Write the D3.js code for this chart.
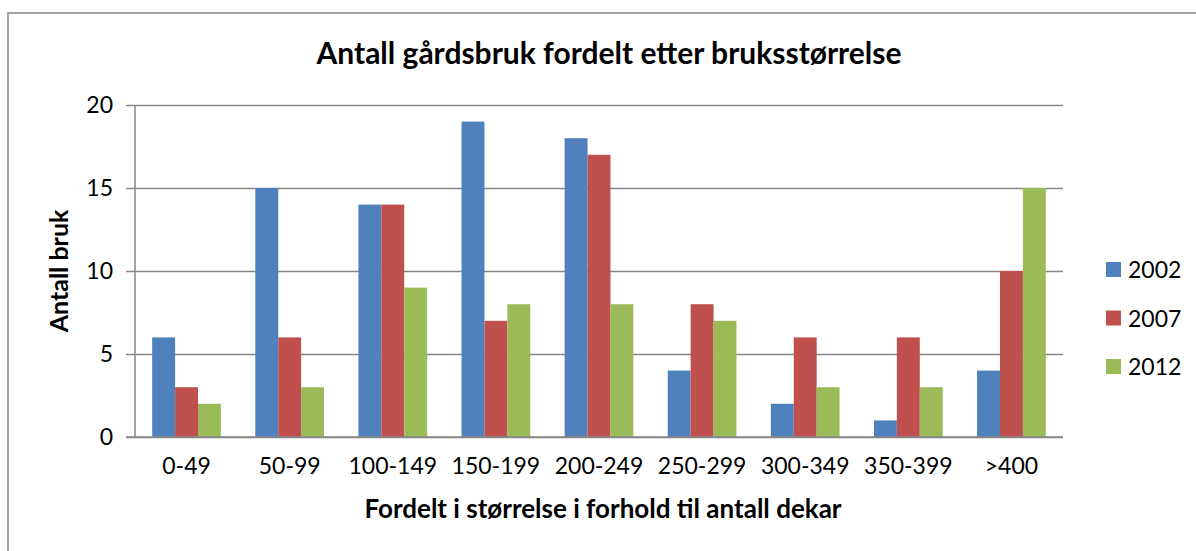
<!DOCTYPE html>
<html>
<head>
<meta charset="UTF-8">
<title>Antall gårdsbruk</title>
<script src="https://d3js.org/d3.v7.min.js"></script>
<style>
  body { margin: 0; background: #fff; }
  svg { display: block; font-family: Lato, "Open Sans", sans-serif; }
</style>
</head>
<body>
<svg id="chart" width="1196" height="551"></svg>
<script>
// data
var categories = ["0-49", "50-99", "100-149", "150-199", "200-249", "250-299", "300-349", "350-399", ">400"];
var years = ["2002", "2007", "2012"];
var values2002 = [6, 15, 14, 19, 18, 4, 2, 1, 4];
var values2007 = [3, 6, 14, 7, 17, 8, 6, 6, 10];
var values2012 = [2, 3, 9, 8, 8, 7, 3, 3, 15];
var yTicks = [0, 5, 10, 15, 20];
var colors = ["#4F81BD", "#C0504D", "#9BBB59"];

var series = [values2002, values2007, values2012];

var svg = d3.select("#chart");
var plotLeft = 135, plotRight = 1063, plotTop = 105, plotBottom = 437;

// outer chart border (only top and left visible in the frame)
svg.append("rect")
    .attr("x", 8).attr("y", 13)
    .attr("width", 1300).attr("height", 700)
    .attr("fill", "none")
    .attr("stroke", "#868686")
    .attr("stroke-width", 1.5);

var x0 = d3.scaleBand()
    .domain(categories)
    .range([plotLeft, plotRight])
    .paddingInner(1 / 3)
    .paddingOuter(1 / 6);

var x1 = d3.scaleBand()
    .domain(years)
    .range([0, x0.bandwidth()]);

var y = d3.scaleLinear()
    .domain([0, 20])
    .range([plotBottom, plotTop]);

// gridlines + y axis ticks
var yAxis = d3.axisLeft(y)
    .tickValues(yTicks)
    .tickSize(-(plotRight - plotLeft))
    .tickPadding(22)
    .tickFormat(d3.format("d"));

var gy = svg.append("g")
    .attr("transform", "translate(" + plotLeft + ",0)")
    .call(yAxis);
gy.select(".domain").remove();
gy.selectAll(".tick line")
    .attr("x1", -9)
    .attr("stroke", "#868686")
    .attr("stroke-width", 1.5);
gy.selectAll(".tick text")
    .attr("font-size", 23)
    .attr("fill", "#000")
    .attr("font-family", "Lato, sans-serif");

// vertical axis line
svg.append("line")
    .attr("x1", plotLeft).attr("x2", plotLeft)
    .attr("y1", plotTop).attr("y2", plotBottom)
    .attr("stroke", "#868686")
    .attr("stroke-width", 1.5);

// bars
var groups = svg.append("g").selectAll("g")
    .data(categories)
    .join("g")
    .attr("transform", function (d) { return "translate(" + x0(d) + ",0)"; });

groups.selectAll("rect")
    .data(function (d, i) {
        return years.map(function (yr, j) { return { year: yr, value: series[j][i], idx: j }; });
    })
    .join("rect")
    .attr("x", function (d) { return x1(d.year); })
    .attr("y", function (d) { return y(d.value); })
    .attr("width", x1.bandwidth())
    .attr("height", function (d) { return y(0) - y(d.value); })
    .attr("fill", function (d) { return colors[d.idx]; });

// x axis
var xAxis = d3.axisBottom(x0).tickSize(0).tickPadding(21);
var gx = svg.append("g")
    .attr("transform", "translate(0," + plotBottom + ")")
    .call(xAxis);
gx.select(".domain").remove();
gx.selectAll(".tick text")
    .attr("font-size", 23)
    .attr("fill", "#000")
    .attr("font-family", "Lato, sans-serif");

// baseline drawn over bars
svg.append("line")
    .attr("x1", plotLeft - 9).attr("x2", plotRight)
    .attr("y1", plotBottom).attr("y2", plotBottom)
    .attr("stroke", "#868686")
    .attr("stroke-width", 1.5);

// titles
svg.append("text")
    .attr("x", 609).attr("y", 64)
    .attr("text-anchor", "middle")
    .attr("font-size", 30)
    .attr("font-weight", "bold")
    .text("Antall gårdsbruk fordelt etter bruksstørrelse");

svg.append("text")
    .attr("x", 603).attr("y", 518)
    .attr("text-anchor", "middle")
    .attr("font-size", 26)
    .attr("font-weight", "bold")
    .text("Fordelt i størrelse i forhold til antall dekar");

svg.append("text")
    .attr("transform", "translate(68," + ((plotTop + plotBottom) / 2) + ") rotate(-90)")
    .attr("text-anchor", "middle")
    .attr("font-size", 25)
    .attr("font-weight", "bold")
    .text("Antall bruk");

// legend
var legend = svg.append("g").selectAll("g")
    .data(years)
    .join("g")
    .attr("transform", function (d, i) { return "translate(1106," + (262 + i * 48.5) + ")"; });

legend.append("rect")
    .attr("width", 15).attr("height", 15)
    .attr("fill", function (d, i) { return colors[i]; });

legend.append("text")
    .attr("x", 22).attr("y", 16)
    .attr("font-size", 23)
    .text(function (d) { return d; });
</script>
</body>
</html>
